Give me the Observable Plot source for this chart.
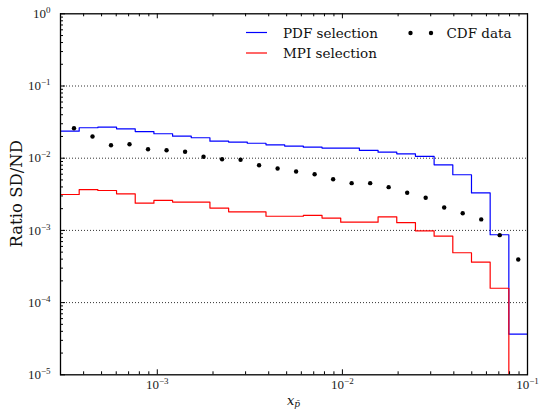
<!DOCTYPE html>
<html><head><meta charset="utf-8">
<script src="https://cdn.jsdelivr.net/npm/d3@7"></script>
<script src="https://cdn.jsdelivr.net/npm/@observablehq/plot@0.6"></script>
<style>body{margin:0;background:#fff}</style>
</head><body><div id="chart"></div>
<script>
// Bin edges of the step histograms (25 log-uniform bins from 3e-4 to 0.1)
const binEdges = [3.0e-4, 3.785e-4, 4.775e-4, 6.024e-4, 7.600e-4, 9.588e-4, 1.2096e-3, 1.526e-3, 1.925e-3, 2.429e-3, 3.064e-3, 3.866e-3, 4.877e-3, 6.153e-3, 7.763e-3, 9.794e-3, 1.2356e-2, 1.5588e-2, 1.9666e-2, 2.481e-2, 3.130e-2, 3.949e-2, 4.982e-2, 6.285e-2, 7.929e-2, 0.1];
// Ratio SD/ND per bin
const pdfSelection = [0.0237, 0.0264, 0.0269, 0.0255, 0.0234, 0.0218, 0.0202, 0.0192, 0.0172, 0.0167, 0.0161, 0.0153, 0.0147, 0.0142, 0.0138, 0.0138, 0.0128, 0.0121, 0.0115, 0.0106, 0.0081, 0.0059, 0.0033, 0.00087, 0.0000365];
const mpiSelection = [0.00314, 0.00368, 0.00357, 0.00321, 0.00238, 0.00260, 0.00247, 0.00247, 0.00204, 0.00181, 0.00181, 0.00157, 0.00157, 0.00161, 0.00148, 0.00130, 0.00130, 0.00154, 0.00128, 0.000987, 0.000831, 0.00049, 0.000363, 0.000158, 0];
// CDF data points
const cdfX = [3.548e-4, 4.467e-4, 5.623e-4, 7.079e-4, 8.913e-4, 1.122e-3, 1.413e-3, 1.778e-3, 2.239e-3, 2.818e-3, 3.548e-3, 4.467e-3, 5.623e-3, 7.079e-3, 8.913e-3, 1.122e-2, 1.413e-2, 1.778e-2, 2.239e-2, 2.818e-2, 3.548e-2, 4.467e-2, 5.623e-2, 7.079e-2, 8.913e-2];
const cdfY = [0.0260, 0.0200, 0.01514, 0.01563, 0.01333, 0.01291, 0.01227, 0.01045, 0.00968, 0.00950, 0.0080, 0.00720, 0.00654, 0.0060, 0.00512, 0.00451, 0.00451, 0.00397, 0.00332, 0.00283, 0.00208, 0.00173, 0.00142, 0.000859, 0.000395];
// Axis ticks
const yMajor = [1, 1e-1, 1e-2, 1e-3, 1e-4, 1e-5];
const yGrid = [1e-1, 1e-2, 1e-3, 1e-4];
const xMajor = [1e-3, 1e-2, 1e-1];

const W = 539, H = 411, mL = 60, mR = 12, mT = 13.3, mB = 36.7;
const fw = W - mL - mR, fh = H - mT - mB;
const FLOOR = 1e-9;

function steps(vals) {
  const pts = vals.map((v, i) => ({x: binEdges[i], y: v > 0 ? v : FLOOR}));
  pts.push({x: binEdges[binEdges.length - 1], y: pts[pts.length - 1].y});
  return pts;
}
const yMinor = [];
for (let d = -5; d < 0; d++) for (let k = 2; k <= 9; k++) yMinor.push(k * Math.pow(10, d));
const xMinor = [];
for (let d = -4; d < -1; d++) for (let k = 2; k <= 9; k++) {
  const v = k * Math.pow(10, d);
  if (v >= 3e-4 && v <= 0.1) xMinor.push(v);
}
const cdf = cdfX.map((x, i) => ({x, y: cdfY[i]}));
const fmt = d => "10^" + Math.round(Math.log10(d));

const plot = Plot.plot({
  width: W, height: H,
  marginLeft: mL, marginRight: mR, marginTop: mT, marginBottom: mB,
  style: {fontFamily: "'Liberation Serif', serif", fontSize: "13px", color: "#222", background: "#fff"},
  x: {type: "log", domain: [3e-4, 0.1]},
  y: {type: "log", domain: [1e-5, 1]},
  marks: [
    Plot.ruleY(yGrid, {y: d => d, stroke: "#333", strokeWidth: 1, strokeDasharray: "1,2"}),
    Plot.line(steps(pdfSelection), {x: "x", y: "y", curve: "step-after", stroke: "#0000ff", strokeWidth: 1.2, clip: true}),
    Plot.line(steps(mpiSelection), {x: "x", y: "y", curve: "step-after", stroke: "#ff0000", strokeWidth: 1.2, clip: true}),
    Plot.dot(cdf, {x: "x", y: "y", r: 2.2, fill: "#000", stroke: "none"}),
    Plot.tickY(yMajor, {y: d => d, insetRight: fw - 5, stroke: "#000"}),
    Plot.tickY(yMinor, {y: d => d, insetRight: fw - 3, stroke: "#000"}),
    Plot.tickX(xMajor, {x: d => d, insetTop: fh - 5, stroke: "#000"}),
    Plot.tickX(xMinor, {x: d => d, insetTop: fh - 3, stroke: "#000"}),
    Plot.tickX(xMajor, {x: d => d, insetBottom: fh - 5, stroke: "#000"}),
    Plot.tickX(xMinor, {x: d => d, insetBottom: fh - 3, stroke: "#000"}),
    Plot.frame({stroke: "#000", strokeWidth: 1.3}),
    Plot.axisY({ticks: yMajor, tickSize: 0, tickPadding: 10, tickFormat: fmt, label: null}),
    Plot.axisX({ticks: xMajor, tickSize: 0, tickPadding: 5, tickFormat: fmt, label: null})
  ]
});
document.getElementById("chart").appendChild(plot);

// superscript exponents in tick labels
plot.querySelectorAll("text").forEach(t => {
  const s = t.textContent;
  const m = /^10\^(-?\d+)$/.exec(s);
  if (!m) return;
  t.textContent = "";
  const a = document.createElementNS("http://www.w3.org/2000/svg", "tspan");
  a.textContent = "10";
  const b = document.createElementNS("http://www.w3.org/2000/svg", "tspan");
  b.textContent = m[1].replace("-", "\u2212");
  b.setAttribute("font-size", "9");
  b.setAttribute("dy", "-5");
  t.appendChild(a); t.appendChild(b);
});

const svg = d3.select(plot);
const g = svg.append("g").attr("font-family", "'DejaVu Serif', serif").attr("font-size", 13.5)
  .attr("fill", "#111").attr("text-anchor", "start");
// legend
g.append("line").attr("x1", 246).attr("x2", 267).attr("y1", 32.5).attr("y2", 32.5).attr("stroke", "#0000ff").attr("stroke-width", 1.2);
g.append("text").attr("x", 283).attr("y", 37.5).text("PDF selection");
g.append("line").attr("x1", 246).attr("x2", 267).attr("y1", 53).attr("y2", 53).attr("stroke", "#ff0000").attr("stroke-width", 1.2);
g.append("text").attr("x", 283).attr("y", 58).text("MPI selection");
g.append("circle").attr("cx", 410.5).attr("cy", 33).attr("r", 2.2).attr("fill", "#000");
g.append("circle").attr("cx", 431).attr("cy", 33).attr("r", 2.2).attr("fill", "#000");
g.append("text").attr("x", 446.5).attr("y", 37.5).text("CDF data");
// y label
g.append("text").attr("transform", `translate(21.5,${mT + fh / 2}) rotate(-90)`).attr("text-anchor", "middle")
  .attr("font-size", 16.5).text("Ratio SD/ND");
// x label
const xl = g.append("text").attr("x", mL + fw / 2).attr("y", 405).attr("text-anchor", "middle");
xl.append("tspan").attr("font-style", "italic").attr("font-size", 13).text("x");
xl.append("tspan").attr("font-style", "italic").attr("font-size", 9).attr("dy", 1.5).text("p\u0304");
</script>
</body></html>
